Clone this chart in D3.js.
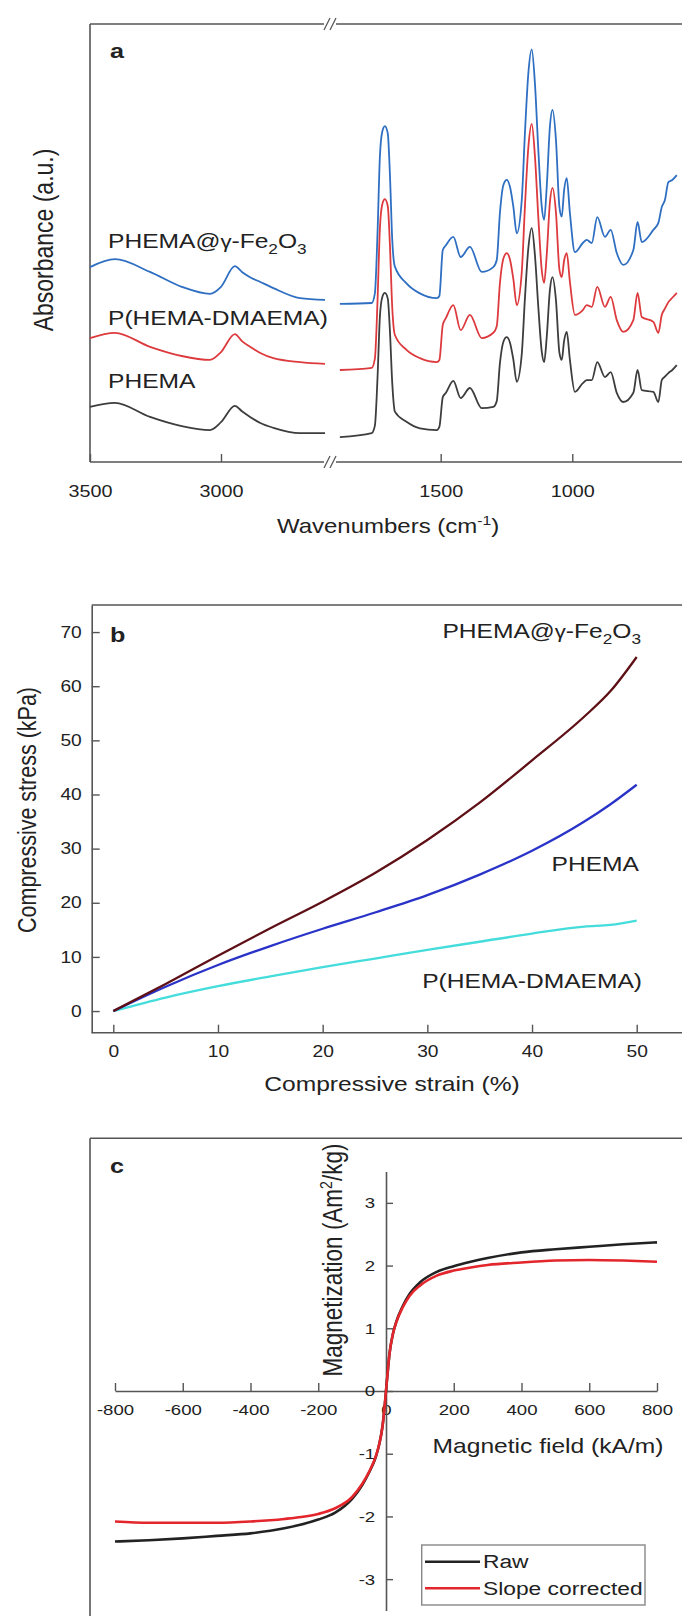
<!DOCTYPE html>
<html>
<head>
<meta charset="utf-8">
<script src="https://cdn.jsdelivr.net/npm/d3@7"></script>
<style>
body { margin: 0; background: #fff; }
text { font-family: "Liberation Sans", Arial, sans-serif; fill: #222; }
</style>
</head>
<body>
<div id="plot"></div>
<script>
// ---- panel a : FTIR spectra (arbitrary absorbance units) ----
const waveLeft = [3500, 3405, 3271, 3150, 3042, 3000, 2947, 2920, 2889, 2850, 2800, 2698, 2603];
const feLeft = [44.5, 46.3, 43.4, 40.0, 38.4, 40.0, 44.7, 43.4, 42.2, 41.1, 39.7, 37.4, 37.0];
const copLeft = [28.3, 29.5, 26.3, 24.2, 23.3, 25.1, 29.2, 27.6, 26.3, 24.9, 23.7, 22.8, 22.4];
const phemaLeft = [12.6, 13.5, 10.3, 8.2, 7.3, 9.1, 12.8, 11.6, 10.3, 8.9, 7.8, 6.6, 6.6];

const waveRight = [1883, 1762, 1750, 1740, 1731, 1722, 1712, 1701, 1693, 1684,
    1674, 1630, 1579, 1515, 1505, 1492, 1480, 1452, 1424, 1389,
    1344, 1300, 1287, 1275, 1262, 1249, 1237, 1224, 1211, 1192,
    1180, 1167, 1154, 1142, 1129, 1116, 1107, 1097, 1085, 1075,
    1062, 1049, 1040, 1031, 1021, 1009, 990, 960, 945, 926,
    905, 876, 854, 831, 806, 768, 752, 736, 692, 673,
    660, 648, 635, 620, 603];
const feRight = [36.1, 36.3, 38.5, 52.2, 69.7, 75.4, 76.7, 75.0, 65.9, 50.7,
    44.6, 40.8, 38.5, 37.4, 37.9, 48.4, 49.5, 51.4, 46.8, 49.1,
    43.4, 44.5, 46.1, 56.8, 63.2, 64.4, 62.9, 58.3, 52.2, 59.8,
    75.0, 88.7, 94.2, 86.5, 71.2, 58.3, 55.3, 62.9, 76.6, 80.4,
    73.5, 58.3, 56.0, 62.1, 64.8, 56.8, 47.9, 50.0, 50.7, 50.0,
    55.9, 51.4, 53.0, 47.7, 45.0, 48.4, 54.8, 50.2, 53.0, 54.6,
    58.2, 59.8, 63.9, 64.4, 65.5];
const copRight = [21.0, 21.5, 23.6, 36.7, 53.3, 58.8, 60.0, 58.4, 49.7, 35.2,
    29.0, 25.6, 23.7, 22.8, 23.3, 31.3, 32.9, 35.8, 30.1, 33.6,
    28.3, 29.5, 31.0, 40.8, 46.4, 47.7, 46.3, 41.8, 35.8, 43.3,
    58.2, 71.8, 77.2, 69.9, 55.8, 43.8, 40.9, 47.4, 59.3, 62.6,
    56.9, 44.0, 42.2, 46.0, 47.7, 41.1, 33.6, 34.7, 35.8, 35.4,
    40.0, 35.4, 37.7, 32.4, 29.7, 32.4, 38.6, 33.1, 32.0, 29.5,
    33.6, 35.0, 36.5, 37.5, 38.6];
const phemaRight = [5.7, 6.6, 8.3, 19.2, 33.1, 37.6, 38.6, 37.3, 30.1, 18.0,
    11.5, 9.2, 7.7, 7.3, 8.0, 14.8, 15.8, 18.5, 14.6, 16.9,
    12.3, 12.6, 13.9, 22.5, 27.4, 28.5, 27.3, 23.4, 18.3, 24.6,
    37.3, 48.8, 53.4, 47.3, 35.3, 25.2, 22.8, 28.6, 39.3, 42.2,
    36.9, 25.0, 23.3, 27.7, 29.7, 23.3, 16.0, 18.0, 18.7, 18.7,
    22.8, 19.4, 20.5, 15.8, 13.7, 15.8, 21.0, 16.4, 16.0, 13.7,
    18.7, 19.5, 20.3, 21.0, 22.1];

const waveTicksLeft = [3500, 3000];
const waveTicksRight = [1500, 1000];

// ---- panel b : compression ----
const strain = [0, 5, 10, 15, 20, 25, 30, 35, 40, 45, 47.5, 50];
const stressFe = [0, 5.0, 10.2, 15.3, 20.2, 25.5, 31.6, 38.5, 46.3, 54.4, 59.1, 65.4];
const stressPhema = [0, 4.5, 8.5, 12.0, 15.2, 18.2, 21.4, 25.2, 29.6, 35.0, 38.2, 41.8];
const stressCop = [0, 2.5, 4.6, 6.4, 8.1, 9.7, 11.3, 12.8, 14.3, 15.6, 15.9, 16.7];
const stressTicks = [0, 10, 20, 30, 40, 50, 60, 70];
const strainTicks = [0, 10, 20, 30, 40, 50];

// ---- panel c : magnetization ----
const field = [-800, -700, -600, -500, -400, -300, -250, -200, -150, -100, -70, -50, -30, -20, -10, -5, 0,
    5, 10, 20, 30, 50, 70, 100, 150, 200, 250, 300, 400, 500, 600, 700, 800];
const magRaw = [-2.40, -2.38, -2.35, -2.31, -2.27, -2.19, -2.13, -2.05, -1.94, -1.72, -1.50, -1.30, -1.05, -0.85, -0.55, -0.30, 0,
    0.30, 0.58, 0.90, 1.10, 1.36, 1.55, 1.73, 1.90, 1.99, 2.06, 2.12, 2.21, 2.26, 2.30, 2.34, 2.37];
const magCorr = [-2.08, -2.10, -2.10, -2.10, -2.08, -2.04, -2.01, -1.96, -1.87, -1.69, -1.48, -1.29, -1.04, -0.85, -0.55, -0.30, 0,
    0.30, 0.58, 0.90, 1.09, 1.34, 1.52, 1.68, 1.84, 1.92, 1.97, 2.01, 2.05, 2.08, 2.09, 2.08, 2.06];
const fieldTicks = [-800, -600, -400, -200, 0, 200, 400, 600, 800];
const magTicks = [-3, -2, -1, 0, 1, 2, 3];

const SX = 1.2;          // the whole figure is a bit stretched sideways
const axisColor = "#555";
const plain = d => String(d);   // no thousands comma, plain hyphen minus

const svg = d3.select("#plot").append("svg")
    .attr("width", 682)
    .attr("height", 1616);

function label(x, y, str, size, anchor = "start", weight = "normal") {
    return svg.append("text")
        .attr("transform", `translate(${x},${y}) scale(${SX},1)`)
        .attr("text-anchor", anchor)
        .style("font-size", size + "px")
        .style("font-weight", weight)
        .text(str);
}

function vlabel(x, y, size) {
    return svg.append("text")
        .attr("transform", `translate(${x},${y}) rotate(-90) scale(1,${SX})`)
        .attr("text-anchor", "middle")
        .style("font-size", size + "px");
}

function feLabel(t, size) {
    t.append("tspan").text("PHEMA@");
    t.append("tspan").style("font-size", (size * 0.9) + "px").text("γ");
    t.append("tspan").text("-Fe");
    t.append("tspan").attr("dy", size * 0.3).style("font-size", (size * 0.7) + "px").text("2");
    t.append("tspan").attr("dy", -size * 0.3).text("O");
    t.append("tspan").attr("dy", size * 0.3).style("font-size", (size * 0.7) + "px").text("3");
}

function hline(x1, x2, y) {
    svg.append("line").attr("x1", x1).attr("x2", x2).attr("y1", y).attr("y2", y)
        .attr("stroke", axisColor).attr("stroke-width", 1.6);
}
function vline(x, y1, y2) {
    svg.append("line").attr("x1", x).attr("x2", x).attr("y1", y1).attr("y2", y2)
        .attr("stroke", axisColor).attr("stroke-width", 1.6);
}

function styleAxis(g, size) {
    g.selectAll("line").attr("stroke", axisColor).attr("stroke-width", 1.4);
    g.selectAll("path").attr("stroke", axisColor).attr("stroke-width", 1.6);
    g.selectAll("text")
        .attr("fill", "#222")
        .style("font-family", "'Liberation Sans', Arial, sans-serif")
        .style("font-size", size + "px")
        .attr("transform", `scale(${SX},1)`);
}

// =============== panel a ===============
const xaL = d3.scaleLinear().domain([3500, 2600]).range([90, 325.8]);
const xaR = d3.scaleLinear().domain([1900, 590]).range([335.4, 680.2]);
const ya = d3.scaleLinear().domain([0, 100]).range([462, 24]);

// frame with the axis break
hline(90, 324, 24);
hline(336, 684, 24);
hline(90, 324, 462);
hline(336, 684, 462);
vline(90, 24, 462);
[24, 462].forEach(yy => {
    [327, 333].forEach(xx => {
        svg.append("line")
            .attr("x1", xx - 3).attr("y1", yy + 6)
            .attr("x2", xx + 3).attr("y2", yy - 6)
            .attr("stroke", axisColor).attr("stroke-width", 1.3);
    });
});

[[xaL, waveTicksLeft], [xaR, waveTicksRight]].forEach(([sc, tv]) => {
    svg.append("g")
        .attr("transform", "translate(0,462)")
        .call(d3.axisBottom(sc).tickValues(tv).tickFormat(plain)
            .tickSizeInner(-8).tickSizeOuter(0).tickPadding(23))
        .call(g => g.select(".domain").remove())
        .call(g => styleAxis(g, 16.5));
});

const ftir = [
    {wl: feLeft, wr: feRight, color: "#2f6fc2"},
    {wl: copLeft, wr: copRight, color: "#dd3a3e"},
    {wl: phemaLeft, wr: phemaRight, color: "#3d3d3d"}
];
const lineL = d3.line().x(d => xaL(d[0])).y(d => ya(d[1])).curve(d3.curveMonotoneX);
const lineR = d3.line().x(d => xaR(d[0])).y(d => ya(d[1])).curve(d3.curveMonotoneX);
ftir.forEach(s => {
    svg.append("path")
        .datum(waveLeft.map((w, i) => [w, s.wl[i]]))
        .attr("d", lineL).attr("fill", "none")
        .attr("stroke", s.color).attr("stroke-width", 1.8);
    svg.append("path")
        .datum(waveRight.map((w, i) => [w, s.wr[i]]))
        .attr("d", lineR).attr("fill", "none")
        .attr("stroke", s.color).attr("stroke-width", 1.8);
});

label(110, 58, "a", 21, "start", "bold");
feLabel(label(108, 248, "", 20.5), 20.5);
label(108, 325, "P(HEMA-DMAEMA)", 20.5);
label(108, 388, "PHEMA", 20.5);

const wt = label(388, 533, "", 20, "middle");
wt.append("tspan").text("Wavenumbers (cm");
wt.append("tspan").attr("dy", -8).style("font-size", "13px").text("-1");
wt.append("tspan").attr("dy", 8).text(")");

vlabel(53, 240, 23).text("Absorbance (a.u.)");

// =============== panel b ===============
const xb = d3.scaleLinear().domain([0, 50]).range([113.3, 636.7]);
const yb = d3.scaleLinear().domain([-4, 75]).range([1032.7, 605]);

hline(91.7, 684, 605);
hline(91.7, 684, 1032.7);

svg.append("g")
    .attr("transform", "translate(91.7,0)")
    .call(d3.axisLeft(yb).tickValues(stressTicks).tickFormat(plain)
        .tickSizeInner(-8).tickSizeOuter(0).tickPadding(8.3))
    .call(g => styleAxis(g, 16));

svg.append("g")
    .attr("transform", "translate(0,1032.7)")
    .call(d3.axisBottom(xb).tickValues(strainTicks).tickFormat(plain)
        .tickSizeInner(-8).tickSizeOuter(0).tickPadding(13))
    .call(g => g.select(".domain").remove())
    .call(g => styleAxis(g, 16));

const lineB = d3.line().x(d => xb(d[0])).y(d => yb(d[1])).curve(d3.curveMonotoneX);
[[stressCop, "#45dcdc"], [stressPhema, "#2a33c8"], [stressFe, "#5e1016"]].forEach(([vals, color]) => {
    svg.append("path")
        .datum(strain.map((s, i) => [s, vals[i]]))
        .attr("d", lineB).attr("fill", "none")
        .attr("stroke", color).attr("stroke-width", 2.3);
});

label(110, 642, "b", 21, "start", "bold");
feLabel(label(641, 638, "", 20.5, "end"), 20.5);
label(639, 871, "PHEMA", 20.5, "end");
label(642, 988, "P(HEMA-DMAEMA)", 20.5, "end");
label(392, 1091, "Compressive strain (%)", 20.5, "middle");
vlabel(36, 810, 21.5).text("Compressive stress (kPa)");

// =============== panel c ===============
const xc = d3.scaleLinear().domain([-800, 800]).range([115, 657]);
const yc = d3.scaleLinear().domain([-3.5, 3.5]).range([1610.5, 1171.5]);

hline(90, 684, 1138.3);
vline(90, 1138.3, 1620);

svg.append("g")
    .attr("transform", `translate(0,${yc(0)})`)
    .call(d3.axisBottom(xc).tickValues(fieldTicks).tickFormat(plain)
        .tickSizeInner(-8).tickSizeOuter(0).tickPadding(13))
    .call(g => styleAxis(g, 15.5));

svg.append("g")
    .attr("transform", `translate(${xc(0)},0)`)
    .call(d3.axisLeft(yc).tickValues(magTicks).tickFormat(plain)
        .tickSizeInner(-7).tickSizeOuter(0).tickPadding(9))
    .call(g => styleAxis(g, 15.5));

const lineC = d3.line().x(d => xc(d[0])).y(d => yc(d[1])).curve(d3.curveMonotoneX);
const magSeries = [
    {name: "Raw", vals: magRaw, color: "#222"},
    {name: "Slope corrected", vals: magCorr, color: "#e3262c"}
];
magSeries.forEach(s => {
    svg.append("path")
        .datum(field.map((f, i) => [f, s.vals[i]]))
        .attr("d", lineC).attr("fill", "none")
        .attr("stroke", s.color).attr("stroke-width", 2.6);
});

label(110, 1173, "c", 21, "start", "bold");
label(548, 1453, "Magnetic field (kA/m)", 20.5, "middle");
const mt = vlabel(342, 1260, 22.5);
mt.append("tspan").text("Magnetization (Am");
mt.append("tspan").attr("dy", -8).style("font-size", "14px").text("2");
mt.append("tspan").attr("dy", 8).text("/kg)");

// legend
svg.append("rect")
    .attr("x", 421.7).attr("y", 1545)
    .attr("width", 223.3).attr("height", 60)
    .attr("fill", "#fff").attr("stroke", "#888").attr("stroke-width", 1.4);
magSeries.forEach((s, i) => {
    const yy = 1561.7 + i * 26.6;
    svg.append("line")
        .attr("x1", 425).attr("x2", 480).attr("y1", yy).attr("y2", yy)
        .attr("stroke", s.color).attr("stroke-width", 2.6);
    label(483, yy + 6.5, s.name, 19);
});
</script>
</body>
</html>
